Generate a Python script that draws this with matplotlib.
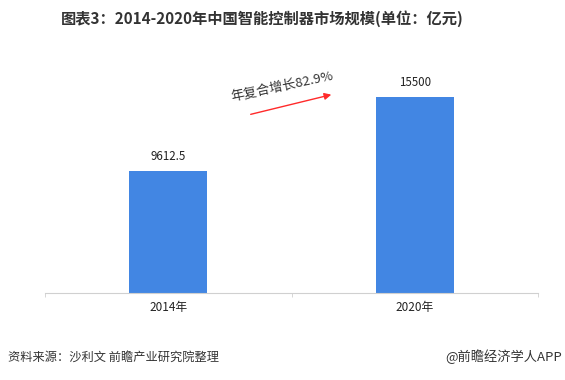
import matplotlib.pyplot as plt

plt.rcParams['font.family'] = ['Noto Sans CJK SC', 'DejaVu Sans']

# data
years = ['2014年', '2020年']
values = [9612.5, 15500]
value_labels = ['9612.5', '15500']
cagr_text = '年复合增长82.9%'

fig = plt.figure(figsize=(5.65, 3.8), dpi=100)
ax = fig.add_axes([45/565, 87.5/380, 493/565, 226.6/380])

x = list(range(len(years)))
ax.bar(x, values, width=0.316, color='#4286e3', zorder=2)
for xi, v, lab in zip(x, values, value_labels):
    ax.text(xi, v + 700, lab, ha='center', va='bottom', fontsize=8.3, color='#222222')

ax.set_xlim(-0.5, 1.5)
ax.set_ylim(0, 18000)
ax.set_xticks(x)
ax.set_xticklabels(years, fontsize=8.5, color='#222222')
ax.set_xticks([-0.5, 0.5, 1.5], minor=True)
ax.tick_params(axis='x', which='major', length=0, pad=6)
ax.tick_params(axis='x', which='minor', length=3, color='#d0d0d0')
ax.set_yticks([])
for s in ['top', 'right', 'left']:
    ax.spines[s].set_visible(False)
ax.spines['bottom'].set_color('#d0d0d0')

# growth arrow + text (figure pixel coords)
fig.patches.append(plt.matplotlib.patches.FancyArrowPatch(
    (248/565, 1 - 115/380), (334/565, 1 - 94/380), transform=fig.transFigure,
    arrowstyle='-|>', mutation_scale=10, color='#ff2a2a', lw=1.0))
fig.text(282/565, 1 - 87/380, cagr_text, rotation=12, ha='center', va='center',
         fontsize=9.5, color='#333333', rotation_mode='anchor')

fig.text(262/565, 1 - 19/380, '图表3：2014-2020年中国智能控制器市场规模(单位：亿元)',
         ha='center', va='center', fontsize=11, fontweight='bold', color='#333333')
fig.text(8/565, 1 - 357/380, '资料来源：沙利文 前瞻产业研究院整理',
         ha='left', va='center', fontsize=8.8, color='#333333')
fig.text(562/565, 1 - 357/380, '@前瞻经济学人APP',
         ha='right', va='center', fontsize=9.5, color='#333333')

fig.savefig('out.png', dpi=100)
